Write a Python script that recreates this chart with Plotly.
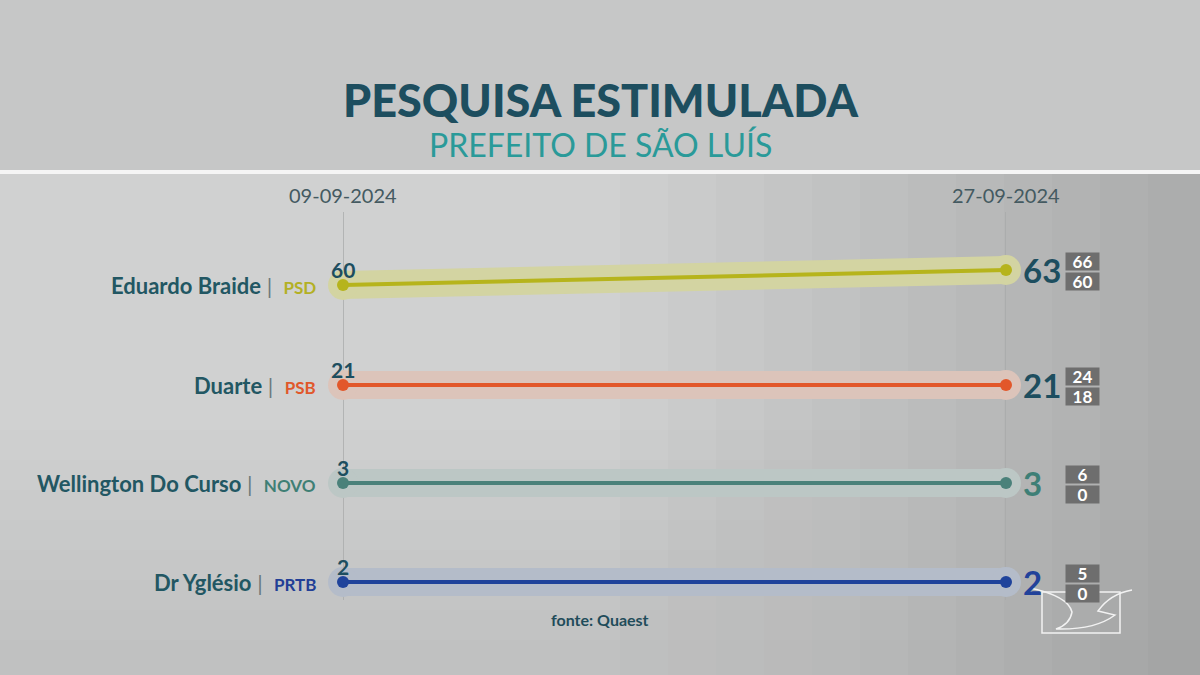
import plotly.graph_objects as go

# ---------------- data ----------------
dates = ["2024-09-09", "2024-09-27"]
date_labels = ["09-09-2024", "27-09-2024"]
candidates = ["Eduardo Braide", "Duarte", "Wellington Do Curso", "Dr Yglésio"]
parties = ["PSD", "PSB", "NOVO", "PRTB"]
first_values = [60, 21, 3, 2]
last_values = [63, 21, 3, 2]
ci_upper = [66, 24, 6, 5]
ci_lower = [60, 18, 0, 0]

title = "PESQUISA ESTIMULADA"
subtitle = "PREFEITO DE SÃO LUÍS"
source = "fonte: Quaest"

# ---------------- style ----------------
W, H = 1200, 675
line_colors = ["#b6b41c", "#e2572a", "#4a817a", "#1f439b"]
band_colors = ["#d3d4a2", "#dcc4ba", "#bcc7c5", "#b4bcc9"]
party_colors = ["#b3b024", "#e0582b", "#3f7f75", "#223f96"]
right_label_colors = ["#1d4e5f", "#1d4e5f", "#3e7f76", "#22429a"]
dark = "#1d4e5f"
row_base_px = [285, 385, 483, 582]   # pixel row of each candidate's first reading
px_per_point = 5
half_px = 40
x_left_px, x_right_px = 343, 1006


def py(p):
    return 1 - p / H


def px(p):
    return p / W


fig = go.Figure()
layout_axes = {}
annotations = []
shapes = []

# background
shapes.append(dict(type="rect", xref="paper", yref="paper", x0=0, x1=1, y0=py(171), y1=1,
                   fillcolor="#c6c7c7", line_width=0, layer="below"))
# soft right-side vignette
for k in range(12):
    x0 = 620 + k * 48
    shapes.append(dict(type="rect", xref="paper", yref="paper", x0=px(x0), x1=1,
                       y0=0, y1=py(174), fillcolor="rgba(100,100,100,0.025)",
                       line_width=0, layer="below"))
# soft bottom darkening
for k in range(8):
    y0 = 430 + k * 30
    shapes.append(dict(type="rect", xref="paper", yref="paper", x0=0, x1=1,
                       y0=0, y1=py(y0), fillcolor="rgba(100,100,100,0.015)",
                       line_width=0, layer="below"))
shapes.append(dict(type="rect", xref="paper", yref="paper", x0=0, x1=1, y0=py(174), y1=py(170),
                   fillcolor="#f5f5f5", line_width=0, layer="below"))

for i, name in enumerate(candidates):
    n = "" if i == 0 else str(i + 1)
    xa, ya = "x" + n, "y" + n
    base = row_base_px[i]
    v0 = first_values[i]
    span = half_px / px_per_point
    layout_axes["xaxis" + n] = dict(domain=[px(x_left_px), px(x_right_px)], range=dates, type="date",
                                    anchor=ya, visible=False, fixedrange=True)
    layout_axes["yaxis" + n] = dict(domain=[py(base + half_px), py(base - half_px)],
                                    range=[v0 - span, v0 + span], anchor=xa, visible=False,
                                    fixedrange=True)
    yv = [first_values[i], last_values[i]]
    # translucent band
    fig.add_trace(go.Scatter(x=dates, y=yv, xaxis=xa, yaxis=ya, mode="lines+markers",
                             line=dict(color=band_colors[i], width=28),
                             marker=dict(color=band_colors[i], size=30),
                             cliponaxis=False, hoverinfo="skip", showlegend=False))
    # main line
    fig.add_trace(go.Scatter(x=dates, y=yv, xaxis=xa, yaxis=ya, mode="lines+markers",
                             line=dict(color=line_colors[i], width=4),
                             marker=dict(color=line_colors[i], size=12),
                             cliponaxis=False, name=name, showlegend=False))
    # left value
    annotations.append(dict(x=dates[0], y=yv[0], xref=xa, yref=ya, text=str(yv[0]), showarrow=False,
                            yshift=16, xanchor="center", yanchor="middle",
                            font=dict(family="Lato", size=21, color=dark, weight=700)))
    # right value
    annotations.append(dict(x=dates[1], y=yv[1], xref=xa, yref=ya, text=str(yv[1]), showarrow=False,
                            xshift=15, xanchor="left", yanchor="middle",
                            font=dict(family="Lato", size=33, color=right_label_colors[i], weight=700)))
    # confidence interval boxes
    for val, sh in ((ci_upper[i], 10), (ci_lower[i], -10)):
        annotations.append(dict(x=dates[1], y=yv[1], xref=xa, yref=ya, text=str(val), showarrow=False,
                                xshift=76, yshift=sh - 1, xanchor="center", yanchor="middle",
                                width=33, height=17, bgcolor="#6e6e6e", borderpad=0,
                                font=dict(family="Lato", size=17, color="white", weight=700)))
    # candidate name | party
    label = ("<b>%s</b>&nbsp;<span style='color:#6a7a7c;font-size:22px'>|</span>&nbsp;&nbsp;"
             "<span style='color:%s;font-size:17px'><b>%s</b></span>") % (name, party_colors[i], parties[i])
    annotations.append(dict(x=px(318), y=yv[0], xref="paper", yref=ya, text=label, showarrow=False,
                            xanchor="right", yanchor="middle",
                            font=dict(family="Lato", size=22, color="#225763")))

# vertical guide lines at the two survey dates
for d in dates:
    shapes.append(dict(type="line", xref="x", yref="paper", x0=d, x1=d, y0=py(600), y1=py(212),
                       line=dict(color="#a9aaaa", width=1.5), layer="below"))
    annotations.append(dict(x=d, y=py(195), xref="x", yref="paper", text=date_labels[dates.index(d)],
                            showarrow=False, xanchor="center", yanchor="middle",
                            font=dict(family="Lato", size=20, color="#445a61")))

# titles
annotations.append(dict(x=0.5, y=py(100), xref="paper", yref="paper", text=title, showarrow=False,
                        xanchor="center", yanchor="middle",
                        font=dict(family="Lato", size=45, color=dark, weight=900)))
annotations.append(dict(x=0.5, y=py(145), xref="paper", yref="paper", text=subtitle, showarrow=False,
                        xanchor="center", yanchor="middle",
                        font=dict(family="Lato", size=32, color="#2a9a99", weight=400)))
annotations.append(dict(x=px(600), y=py(619), xref="paper", yref="paper", text=source, showarrow=False,
                        xanchor="center", yanchor="middle",
                        font=dict(family="Lato", size=16, color="#1f4c5a", weight=700)))

# broadcaster logo (outline)
shapes.append(dict(type="rect", xref="paper", yref="paper", x0=px(1042), x1=px(1120), y0=py(633), y1=py(592),
                   line=dict(color="#f2f2f2", width=1.5), fillcolor="rgba(0,0,0,0)"))


def P(x, y):
    return "%.5f,%.5f" % (px(x), py(y))


bird = ("M " + P(1030, 588) + " Q " + P(1068, 596) + " " + P(1072, 612)
        + " Q " + P(1070, 624) + " " + P(1056, 629)
        + " Q " + P(1095, 630) + " " + P(1115, 615)
        + " L " + P(1098, 611)
        + " Q " + P(1110, 594) + " " + P(1132, 590))
shapes.append(dict(type="path", xref="paper", yref="paper", path=bird,
                   line=dict(color="#f2f2f2", width=1.5)))

fig.update_layout(width=W, height=H, margin=dict(l=0, r=0, t=0, b=0),
                  paper_bgcolor="#d0d1d1", plot_bgcolor="rgba(0,0,0,0)",
                  showlegend=False, annotations=annotations, shapes=shapes, **layout_axes)

fig.write_html("out.html", config={"displayModeBar": False})
